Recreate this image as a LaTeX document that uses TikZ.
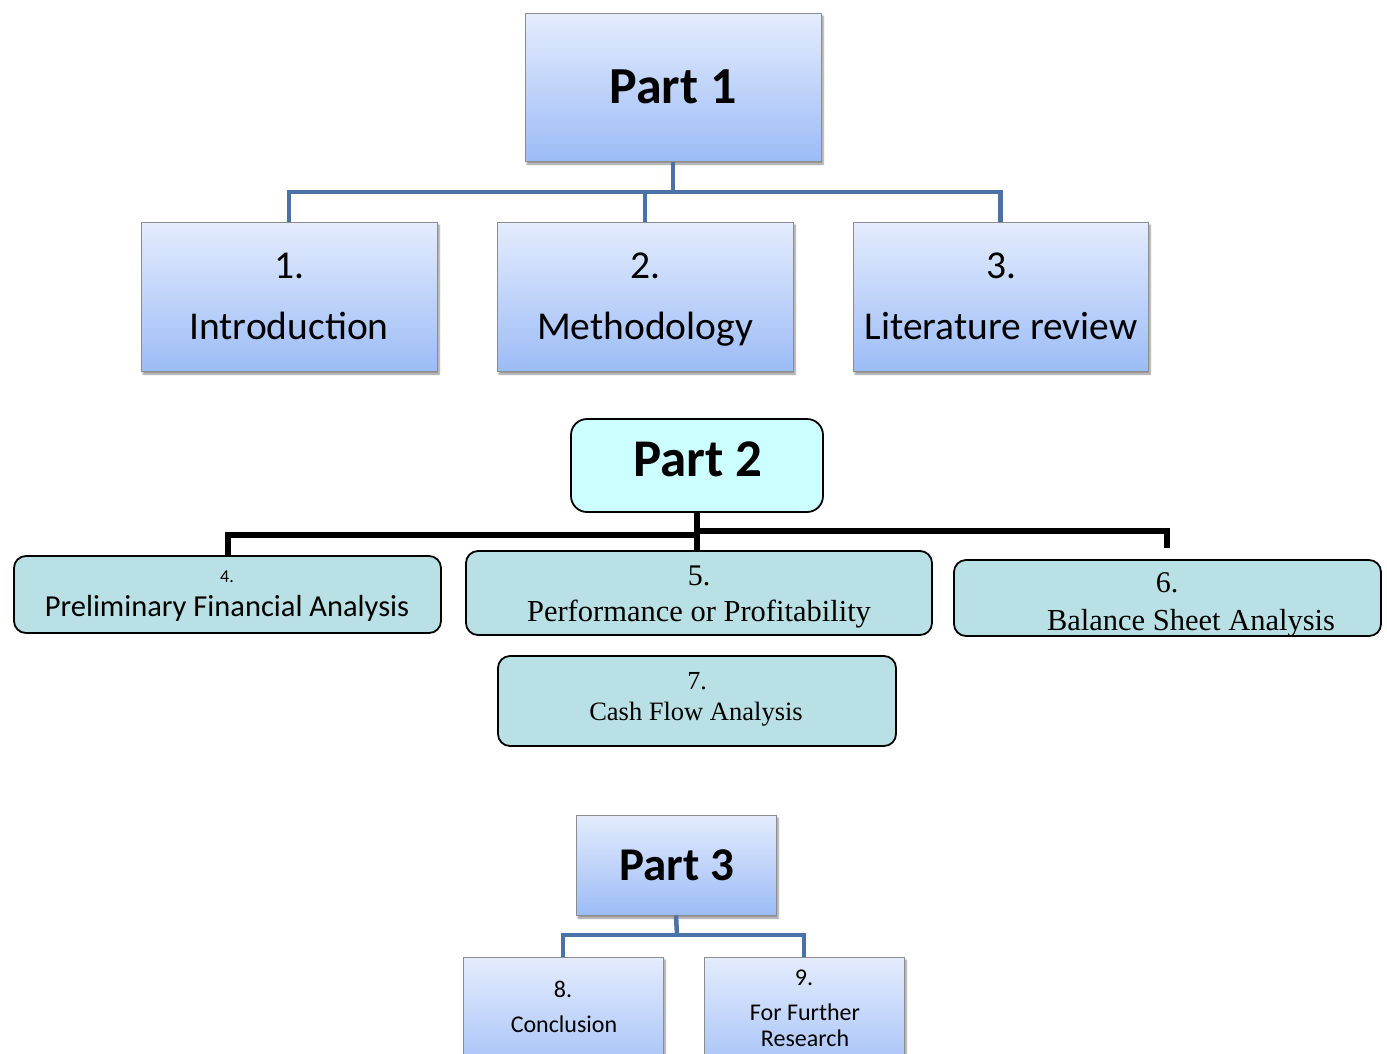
\documentclass[tikz,border=0pt]{standalone}
\usepackage{fontspec}
\setmainfont{Carlito}
\newfontfamily\timesf{Liberation Serif}
\usetikzlibrary{shadows,shadows.blur}
\definecolor{btop}{HTML}{E4ECFD}
\definecolor{bbot}{HTML}{9CBCF6}
\definecolor{bline}{HTML}{4A72A6}
\definecolor{tealfill}{HTML}{B9E0E4}
\definecolor{cyanfill}{HTML}{CCFFFF}
\tikzset{
  bluebox/.style={draw=black!45, line width=1pt, top color=btop, bottom color=bbot, inner sep=0pt,
    blur shadow={shadow xshift=2pt, shadow yshift=-3pt, shadow blur steps=6, shadow opacity=45}},
  tealbox/.style={draw=black, line width=1.8pt, fill=tealfill, rounded corners=12pt, inner sep=0pt},
  cyanbox/.style={draw=black, line width=1.8pt, fill=cyanfill, rounded corners=16pt, inner sep=0pt},
  bluecon/.style={draw=bline, line width=4.5pt},
  blackcon/.style={draw=black, line width=6pt},
  txt/.style={anchor=base, inner sep=0pt},
}
\newcommand{\fs}[1]{\fontsize{#1}{#1}\selectfont}
\begin{document}
\begin{tikzpicture}[x=1pt,y=-1pt]
\useasboundingbox (0,0) rectangle (1387,1053);
% Part 1
\node[bluebox, minimum width=296pt, minimum height=148pt] (p1) at (673,87) {};
\node[txt] (p1t) at (673,103) {\fs{52}\bfseries Part 1};
\node[bluebox, minimum width=296pt, minimum height=149pt] (intro) at (289,296.5) {};
\node[bluebox, minimum width=296pt, minimum height=149pt] (meth) at (645,296.5) {};
\node[bluebox, minimum width=295pt, minimum height=149pt] (lit) at (1000.5,296.5) {};
\node[txt] (intro1) at (289,278) {\fs{39.5}1.};
\node[txt] (intro2) at (289,339) {\fs{39.5}Introduction};
\node[txt] (meth1) at (645,278) {\fs{39.5}2.};
\node[txt] (meth2) at (645,339) {\fs{39.5}Methodology};
\node[txt] (lit1) at (1001,278) {\fs{39.5}3.};
\node[txt] (lit2) at (1001,339) {\fs{39.5}Literature review};
\coordinate (j1) at (673,192);
\draw[bluecon] (p1.south) -- (j1);
\draw[bluecon] (j1) -| (intro.north);
\draw[bluecon] (j1) -| (meth.north);
\draw[bluecon] (j1) -| (lit.north);
% Part 2
\node[cyanbox, minimum width=252pt, minimum height=93pt] (p2) at (697,465.5) {};
\node[txt] (p2t) at (698,476) {\fs{53}\bfseries Part 2};
\node[tealbox, minimum width=427pt, minimum height=77pt] (b4) at (227.5,594.5) {};
\node[tealbox, minimum width=466pt, minimum height=84pt] (b5) at (699,593) {};
\node[tealbox, minimum width=427pt, minimum height=76pt] (b6) at (1167.5,598) {};
\node[tealbox, minimum width=398pt, minimum height=90pt] (b7) at (697,701) {};
\node[txt] (b4a) at (227,582) {\fs{18}4.};
\node[txt] (b4b) at (227,616) {\fs{30.5}Preliminary Financial Analysis};
\node[txt] (b5a) at (699,585) {\fs{30}\timesf 5.};
\node[txt] (b5b) at (699,621) {\fs{30.5}\timesf Performance or Profitability};
\begin{scope}
\clip[rounded corners=12pt] (b6.north west) rectangle (b6.south east);
\node[txt] (b6a) at (1167,592) {\fs{30}\timesf 6.};
\node[txt] (b6b) at (1191,630) {\fs{30.5}\timesf Balance Sheet Analysis};
\end{scope}
\node[txt] (b7a) at (697,689) {\fs{26}\timesf 7.};
\node[txt] (b7b) at (696,720) {\fs{26.5}\timesf Cash Flow Analysis};
\coordinate (j2l) at (697,535);
\coordinate (j2r) at (697,531);
\coordinate (e6) at (1167,548);
\draw[blackcon] (p2.south) -- (p2.south |- b5.north);
\draw[blackcon] (j2l) -| (b4.north);
\draw[blackcon] (j2r) -| (e6);
% Part 3
\node[bluebox, minimum width=200pt, minimum height=100pt] (p3) at (676,865) {};
\node[txt] (p3t) at (677,880) {\fs{47}\bfseries Part 3};
\node[bluebox, minimum width=200pt, minimum height=130pt] (b8) at (563,1022) {};
\node[bluebox, minimum width=200pt, minimum height=130pt] (b9) at (804,1022) {};
\node[txt] (b8a) at (563,997) {\fs{24}8.};
\node[txt] (b8b) at (564,1032) {\fs{24}Conclusion};
\node[txt] (b9a) at (804,985) {\fs{24}9.};
\node[txt] (b9b) at (805,1020) {\fs{24}For Further};
\node[txt] (b9c) at (805,1046) {\fs{24}Research};
\coordinate (j3) at (677,935);
\draw[bluecon] (p3.south) -- (j3);
\draw[bluecon] (j3) -| (b8.north);
\draw[bluecon] (j3) -| (b9.north);
\end{tikzpicture}
\end{document}
